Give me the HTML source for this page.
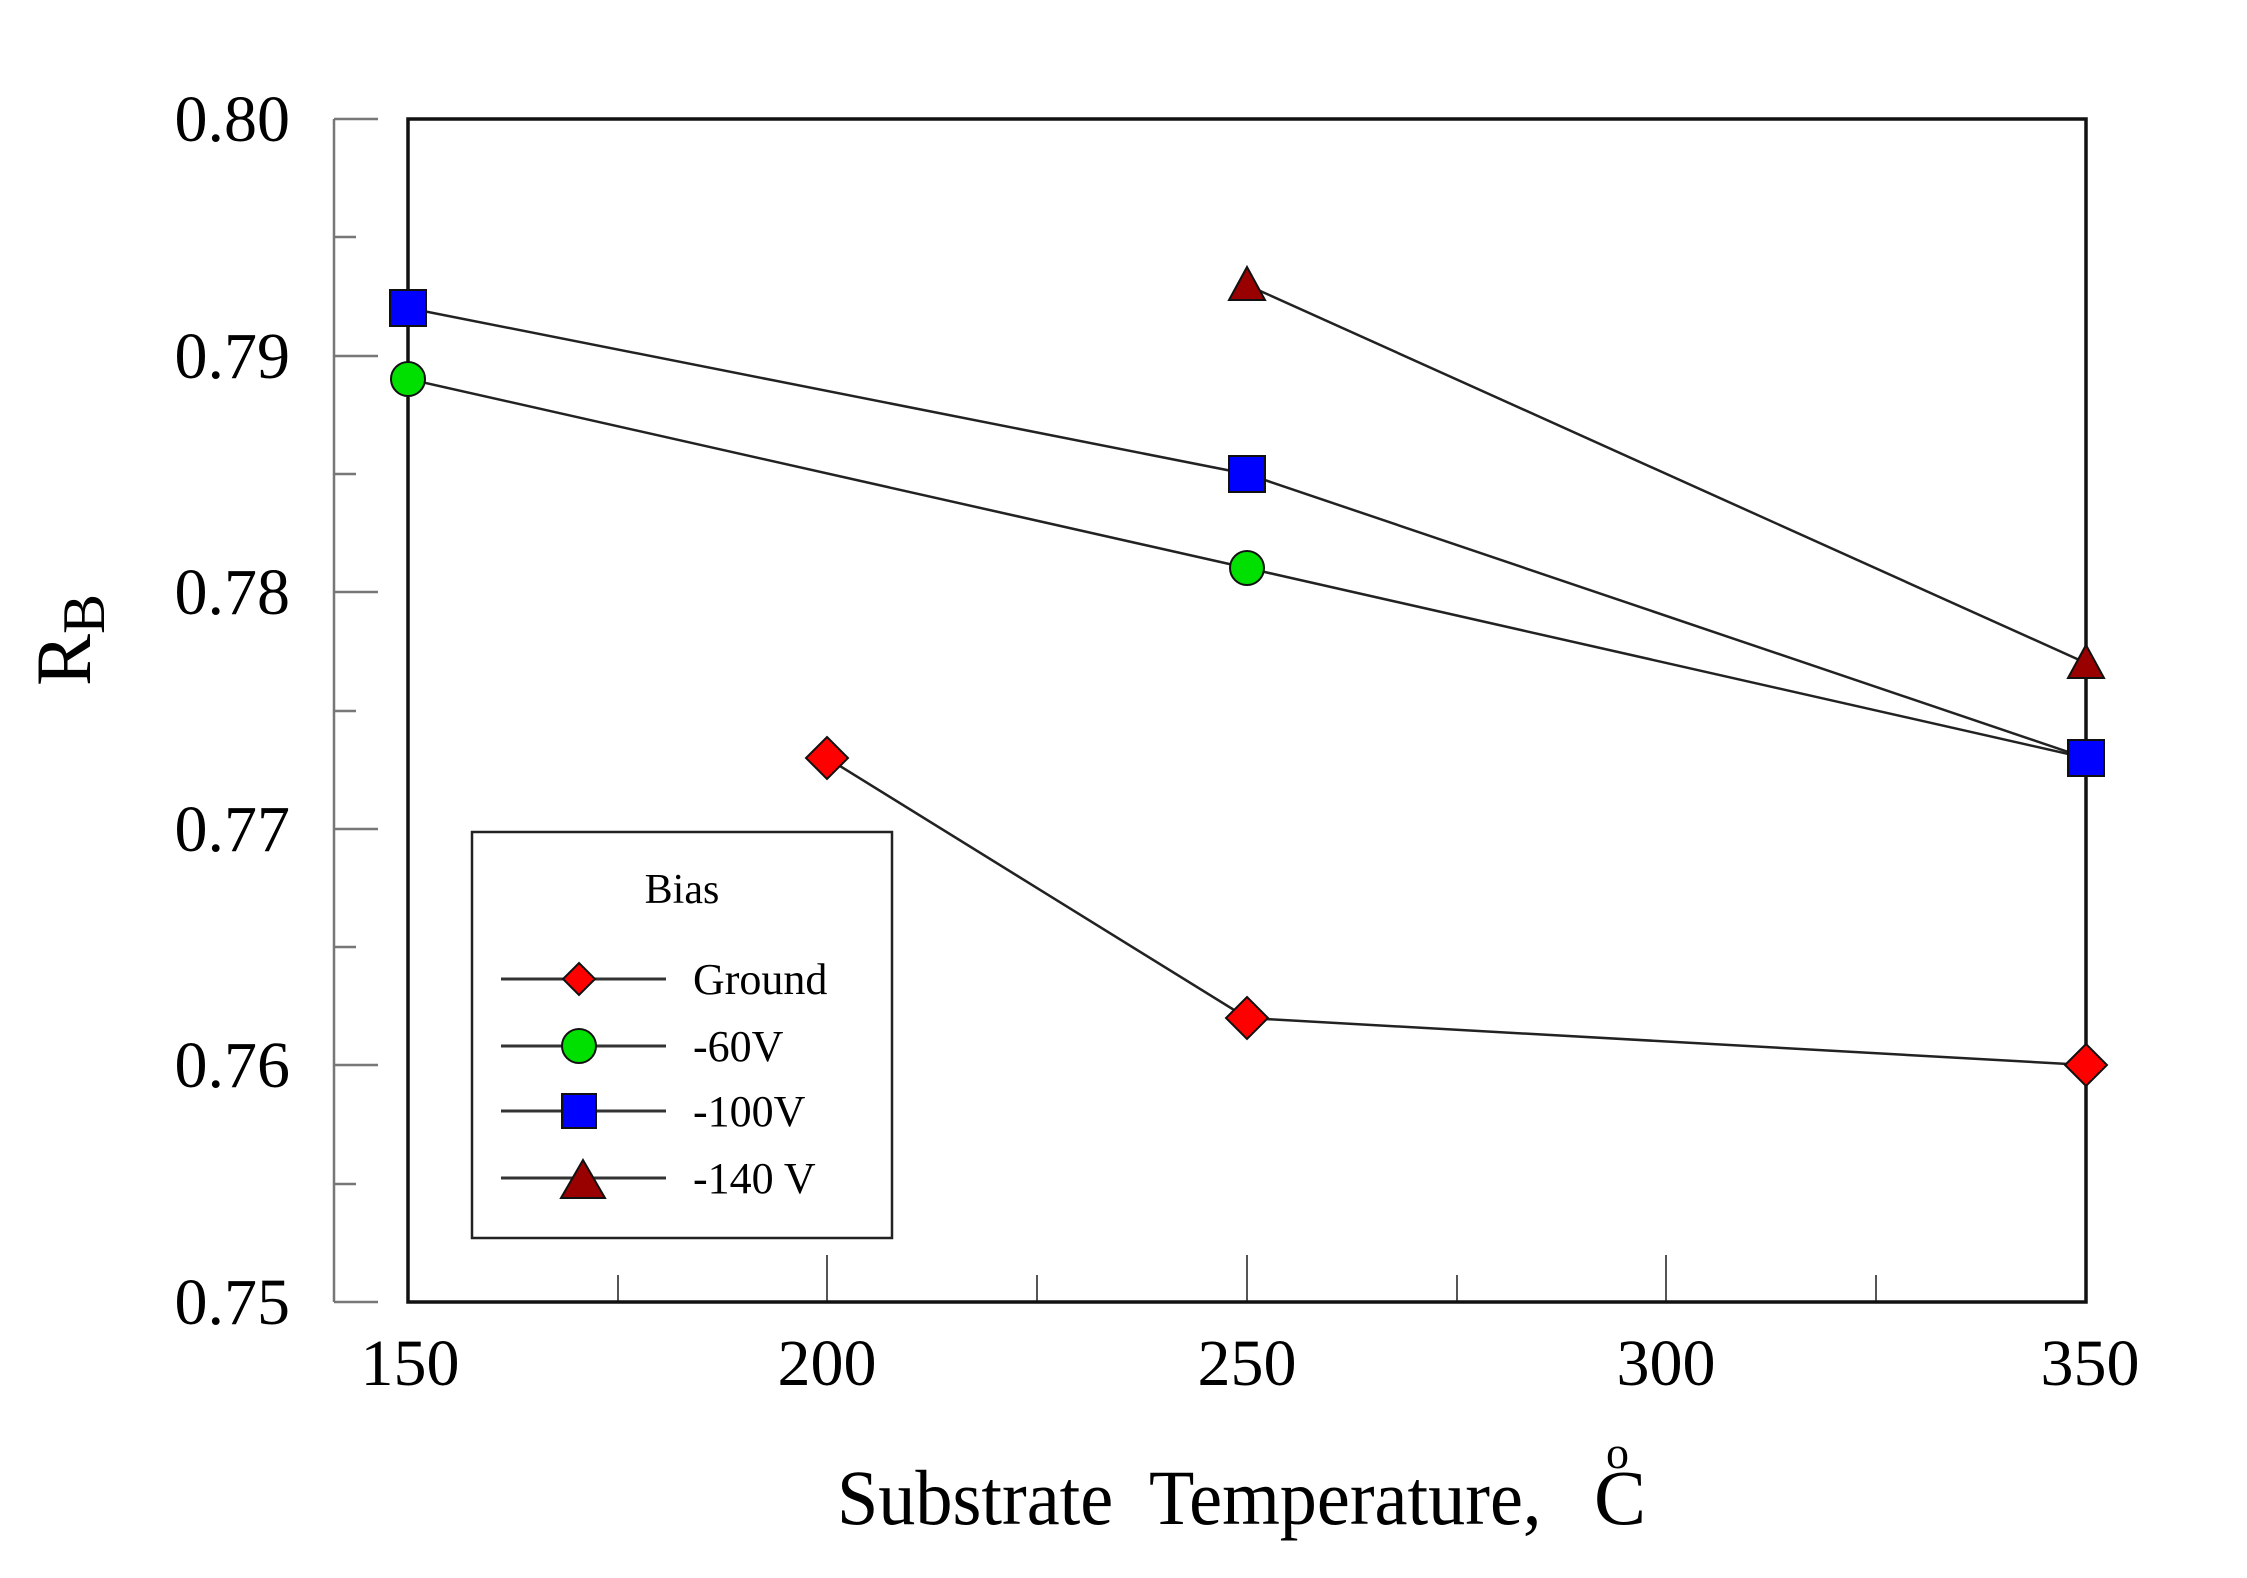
<!DOCTYPE html>
<html><head><meta charset="utf-8"><style>
html,body{margin:0;padding:0;background:#fff;}
svg{display:block;}
text{font-family:"Liberation Serif",serif;fill:#000;}
</style></head><body>
<svg width="2247" height="1578" viewBox="0 0 2247 1578" xmlns="http://www.w3.org/2000/svg">
<rect width="2247" height="1578" fill="#fff"/>
<g stroke="#777" stroke-width="2.5" fill="none">
<line x1="334" y1="119" x2="334" y2="1302"/>
<line x1="334" y1="119" x2="378" y2="119"/>
<line x1="334" y1="356" x2="378" y2="356"/>
<line x1="334" y1="592" x2="378" y2="592"/>
<line x1="334" y1="829" x2="378" y2="829"/>
<line x1="334" y1="1065" x2="378" y2="1065"/>
<line x1="334" y1="1302" x2="378" y2="1302"/>
<line x1="334" y1="237" x2="356" y2="237"/>
<line x1="334" y1="474" x2="356" y2="474"/>
<line x1="334" y1="711" x2="356" y2="711"/>
<line x1="334" y1="947" x2="356" y2="947"/>
<line x1="334" y1="1184" x2="356" y2="1184"/>
</g>
<g stroke="#555" stroke-width="2">
<line x1="618" y1="1302" x2="618" y2="1275"/>
<line x1="827" y1="1302" x2="827" y2="1255"/>
<line x1="1037" y1="1302" x2="1037" y2="1275"/>
<line x1="1247" y1="1302" x2="1247" y2="1255"/>
<line x1="1457" y1="1302" x2="1457" y2="1275"/>
<line x1="1666" y1="1302" x2="1666" y2="1255"/>
<line x1="1876" y1="1302" x2="1876" y2="1275"/>
</g>
<rect x="408" y="119" width="1678" height="1183" fill="none" stroke="#111" stroke-width="3.5"/>
<g font-size="66" text-anchor="end">
<text x="290" y="141">0.80</text>
<text x="290" y="378">0.79</text>
<text x="290" y="614">0.78</text>
<text x="290" y="851">0.77</text>
<text x="290" y="1087">0.76</text>
<text x="290" y="1324">0.75</text>
</g>
<g font-size="66" text-anchor="middle">
<text x="410" y="1385">150</text>
<text x="827" y="1385">200</text>
<text x="1247" y="1385">250</text>
<text x="1666" y="1385">300</text>
<text x="2090" y="1385">350</text>
</g>
<text transform="translate(90,640) rotate(-90)" font-size="78" text-anchor="middle">R<tspan font-size="60" dy="14">B</tspan></text>
<text x="837" y="1524" font-size="78" textLength="723" lengthAdjust="spacingAndGlyphs" xml:space="preserve">Substrate  Temperature, </text>
<text x="1606" y="1468" font-size="46">o</text>
<text x="1594" y="1524" font-size="78">C</text>
<g stroke="#222" stroke-width="2.5" fill="none">
<polyline points="827,758 1247,1018 2086,1065"/>
<polyline points="408,379 1247,568 2086,758"/>
<polyline points="408,308 1247,474 2086,758"/>
<polyline points="1247,285 2086,663"/>
</g>
<g stroke="#111" stroke-width="2">
<polygon points="827,737 848,758 827,779 806,758" fill="#ff0000"/>
<polygon points="1247,997 1268,1018 1247,1039 1226,1018" fill="#ff0000"/>
<polygon points="2086,1044 2107,1065 2086,1086 2065,1065" fill="#ff0000"/>
<circle cx="408" cy="379" r="17" fill="#00e000"/>
<circle cx="1247" cy="568" r="17" fill="#00e000"/>
<rect x="390" y="290" width="36" height="36" fill="#0000ff"/>
<rect x="1229" y="456" width="36" height="36" fill="#0000ff"/>
<rect x="2068" y="740" width="36" height="36" fill="#0000ff"/>
<polygon points="1247,267 1265,300 1229,300" fill="#990000"/>
<polygon points="2086,645 2104,678 2068,678" fill="#990000"/>
</g>
<rect x="472" y="832" width="420" height="406" fill="#fff" stroke="#222" stroke-width="2.5"/>
<text x="682" y="903" font-size="42" text-anchor="middle">Bias</text>
<g stroke="#333" stroke-width="3">
<line x1="501" y1="979" x2="666" y2="979"/>
<line x1="501" y1="1046" x2="666" y2="1046"/>
<line x1="501" y1="1111" x2="666" y2="1111"/>
<line x1="501" y1="1178" x2="666" y2="1178"/>
</g>
<g stroke="#111" stroke-width="2">
<polygon points="579,963 595,979 579,995 563,979" fill="#ff0000"/>
<circle cx="579" cy="1046" r="17" fill="#00e000"/>
<rect x="562" y="1094" width="34" height="34" fill="#0000ff"/>
<polygon points="583,1160 605,1198 561,1198" fill="#990000"/>
</g>
<g font-size="44">
<text x="693" y="994">Ground</text>
<text x="693" y="1061">-60V</text>
<text x="693" y="1126">-100V</text>
<text x="693" y="1193">-140 V</text>
</g>
</svg>
</body></html>
